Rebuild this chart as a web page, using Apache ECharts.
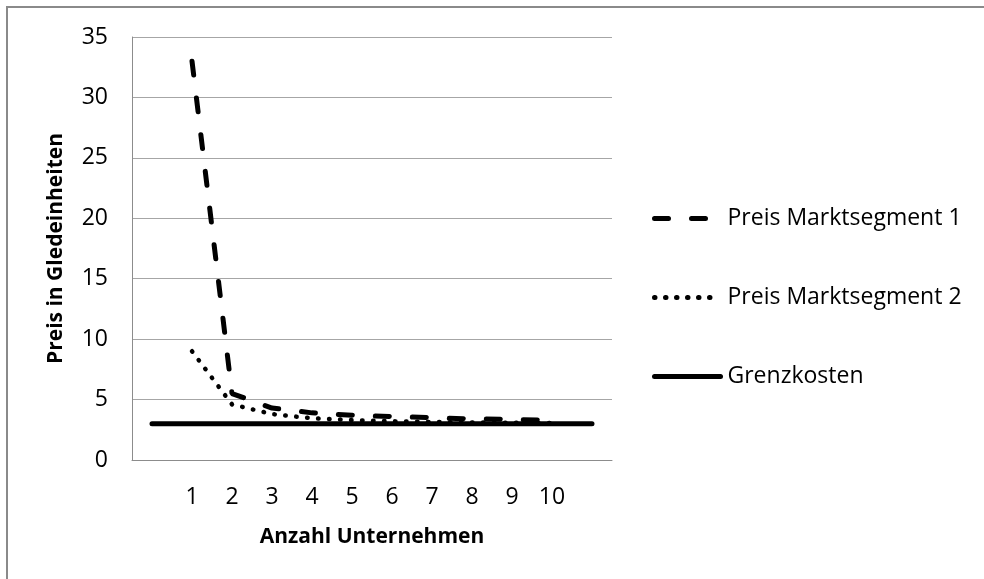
<!DOCTYPE html>
<html>
<head>
<meta charset="utf-8">
<script src="https://cdn.jsdelivr.net/npm/echarts@6/dist/echarts.min.js"></script>
<style>
html, body { margin: 0; padding: 0; background: #fff; }
#chart { width: 984px; height: 579px; }
</style>
</head>
<body>
<div id="chart"></div>
<script>
// Kategorien (erste und letzte leer, damit die Grenzkosten-Linie über den Rand läuft)
var anzahl = ['', '1', '2', '3', '4', '5', '6', '7', '8', '9', '10', ''];
var preisSegment1 = [null, 33, 5.5, 4.3, 3.9, 3.7, 3.6, 3.5, 3.4, 3.35, 3.3, null];
var preisSegment2 = [null, 9, 4.6, 3.8, 3.45, 3.3, 3.2, 3.15, 3.1, 3.08, 3.06, null];
var grenzkosten = [3, 3, 3, 3, 3, 3, 3, 3, 3, 3, 3, 3];
var yTicks = [0, 35, 5];

var FONT = "'Open Sans', sans-serif";

var myChart = echarts.init(document.getElementById('chart'));

var option = {
	backgroundColor: '#fff',
	animation: false,
	graphic: [{
		type: 'rect',
		shape: { x: 7, y: 7, width: 1000, height: 600 },
		style: { fill: 'none', stroke: '#8a8a8a', lineWidth: 2 },
		silent: true
	}],
	grid: {
		left: 132,
		right: 372,
		top: 37,
		bottom: 119
	},
	legend: {
		orient: 'vertical',
		left: 652,
		top: 207,
		padding: 0,
		itemWidth: 66,
		itemHeight: 20,
		itemGap: 56,
		itemStyle: { opacity: 0 },
		lineStyle: { width: 5 },
		textStyle: {
			fontFamily: FONT,
			fontSize: 23,
			color: '#000',
			padding: [0, 0, 0, 2]
		},
		data: ['Preis Marktsegment 1', 'Preis Marktsegment 2', 'Grenzkosten']
	},
	xAxis: {
		type: 'category',
		data: anzahl,
		boundaryGap: true,
		name: 'Anzahl Unternehmen',
		nameLocation: 'middle',
		nameGap: 67,
		nameTextStyle: {
			fontFamily: FONT,
			fontSize: 21,
			fontWeight: 'bold',
			color: '#000'
		},
		axisLine: { lineStyle: { color: '#8c8c8c', width: 1 } },
		axisTick: { show: false },
		axisLabel: {
			interval: 0,
			margin: 26,
			fontFamily: FONT,
			fontSize: 23,
			color: '#000'
		},
		splitLine: { show: false }
	},
	yAxis: {
		type: 'value',
		min: yTicks[0],
		max: yTicks[1],
		interval: yTicks[2],
		name: 'Preis in Gledeinheiten',
		nameLocation: 'middle',
		nameGap: 65,
		nameTextStyle: {
			fontFamily: FONT,
			fontSize: 21,
			fontWeight: 'bold',
			color: '#000'
		},
		axisLine: { show: true, lineStyle: { color: '#8c8c8c', width: 1 } },
		axisTick: { show: false },
		axisLabel: {
			margin: 24,
			fontFamily: FONT,
			fontSize: 23,
			color: '#000'
		},
		splitLine: { lineStyle: { color: '#a6a6a6', width: 1 } }
	},
	series: [
		{
			name: 'Preis Marktsegment 1',
			type: 'line',
			data: preisSegment1,
			symbol: 'none',
			lineStyle: { color: '#000', width: 5, type: [14, 23], cap: 'round' },
			itemStyle: { color: '#000' },
			z: 3
		},
		{
			name: 'Preis Marktsegment 2',
			type: 'line',
			data: preisSegment2,
			symbol: 'none',
			lineStyle: { color: '#000', width: 4.5, type: [0.5, 10.5], cap: 'round' },
			itemStyle: { color: '#000' },
			z: 3
		},
		{
			name: 'Grenzkosten',
			type: 'line',
			data: grenzkosten,
			symbol: 'none',
			lineStyle: { color: '#000', width: 5, type: 'solid', cap: 'round' },
			itemStyle: { color: '#000' },
			z: 2
		}
	]
};

myChart.setOption(option);
</script>
</body>
</html>
